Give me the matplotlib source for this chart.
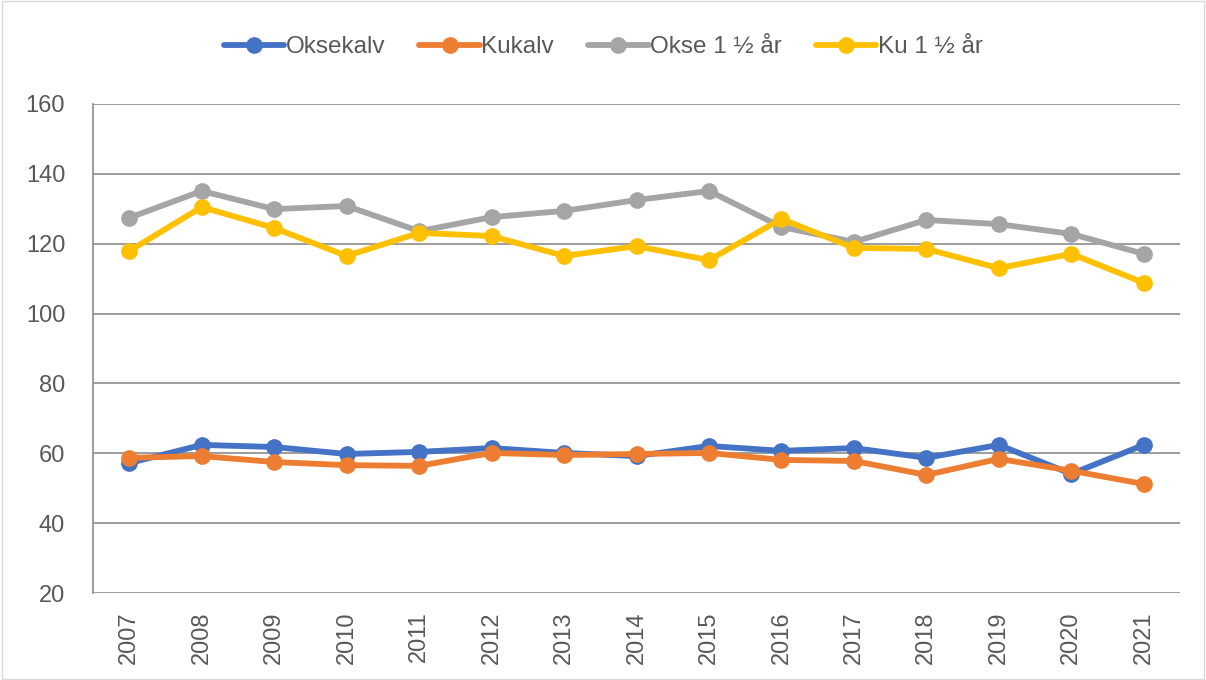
import matplotlib
matplotlib.use("Agg")
import matplotlib.pyplot as plt

years = [str(y) for y in range(2007, 2022)]
oksekalv = [57.2, 62.4, 61.8, 59.8, 60.4, 61.5, 60.1, 59.2, 62.1, 60.7, 61.5, 58.7, 62.4, 54.1, 62.4]
kukalv = [58.7, 59.2, 57.5, 56.6, 56.4, 60.1, 59.5, 59.8, 60.1, 58.1, 57.8, 53.8, 58.4, 55.0, 51.2]
okse_15 = [127.4, 135.1, 129.9, 130.8, 123.6, 127.6, 129.4, 132.5, 135.1, 124.8, 120.5, 126.8, 125.6, 122.8, 117.1]
ku_15 = [117.9, 130.5, 124.5, 116.5, 123.1, 122.2, 116.5, 119.3, 115.3, 127.1, 118.8, 118.5, 113.0, 117.1, 108.8]

series = [
    ("Oksekalv", oksekalv, "#4472C4"),
    ("Kukalv", kukalv, "#ED7D31"),
    ("Okse 1 ½ år", okse_15, "#A5A5A5"),
    ("Ku 1 ½ år", ku_15, "#FFC000"),
]

plt.rcParams['font.family'] = ['Liberation Sans', 'DejaVu Sans']

fig = plt.figure(figsize=(12.06, 6.8), dpi=100)
ax = fig.add_axes([93 / 1206, 1 - 593 / 680, (1180 - 93) / 1206, (593 - 104) / 680])

x = list(range(len(years)))
for name, vals, color in series:
    ax.plot(x, vals, color=color, linewidth=4.2, marker='o', markersize=11,
            label=name, solid_capstyle='round')

ax.set_xlim(-0.5, len(years) - 0.5)
ax.set_ylim(20, 160)
ax.set_yticks(range(20, 161, 20))
ax.set_xticks(x)
ax.set_xticklabels(years, rotation=90)
ax.tick_params(axis='both', length=0, labelsize=17, colors='#595959')
ax.tick_params(axis='y', pad=20)
ax.tick_params(axis='x', pad=13)

ax.grid(axis='y', color='#8c8c8c', linewidth=1.2)
ax.set_axisbelow(True)
for side in ['top', 'right', 'bottom']:
    ax.spines[side].set_visible(False)
ax.spines['left'].set_color('#8c8c8c')
ax.spines['left'].set_linewidth(1.2)

fig.legend(loc='center', bbox_to_anchor=(0.5, 1 - 47 / 680), ncol=4, frameon=False,
           fontsize=17.5, handlelength=2.5, columnspacing=1.4, handletextpad=0.05,
           labelcolor='#595959')

# outer border
border = plt.Rectangle((0.002, 0.002), 0.996, 0.996, transform=fig.transFigure,
                       fill=False, edgecolor='#d9d9d9', linewidth=1)
fig.patches.append(border)

fig.savefig("out.png", dpi=100)
